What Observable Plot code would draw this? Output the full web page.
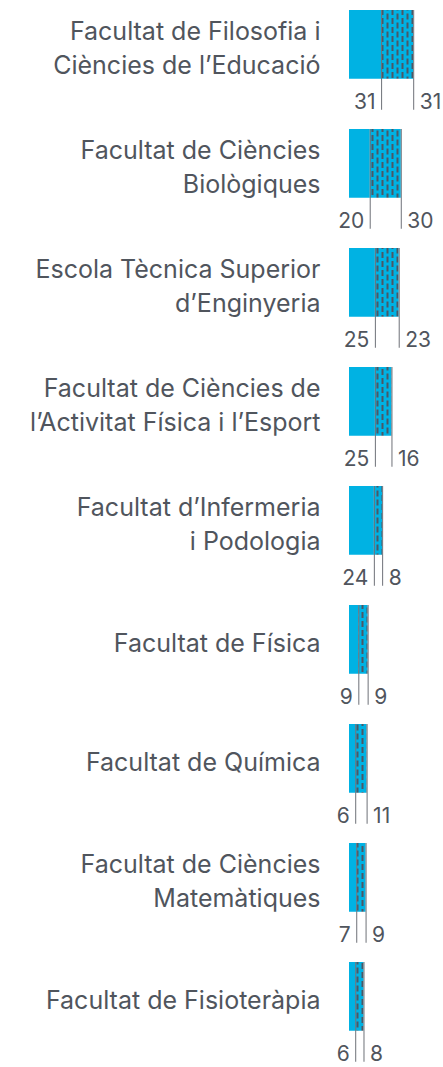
<!DOCTYPE html>
<html>
<head>
<meta charset="utf-8">
<script src="https://cdn.jsdelivr.net/npm/d3@7"></script>
<script src="https://cdn.jsdelivr.net/npm/@observablehq/plot@0.6"></script>
<style>
  html, body { margin: 0; padding: 0; background: #fff; }
  #chart svg { display: block; }
</style>
</head>
<body>
<div id="chart"></div>
<script>
const categories = [
  "Facultat de Filosofia i\nCiències de l’Educació",
  "Facultat de Ciències\nBiològiques",
  "Escola Tècnica Superior\nd’Enginyeria",
  "Facultat de Ciències de\nl’Activitat Física i l’Esport",
  "Facultat d’Infermeria\ni Podologia",
  "Facultat de Física",
  "Facultat de Química",
  "Facultat de Ciències\nMatemàtiques",
  "Facultat de Fisioteràpia"
];
const solidValues = [31, 20, 25, 25, 24, 9, 6, 7, 6];
const patternValues = [31, 30, 23, 16, 8, 9, 11, 9, 8];

const rows = categories.map((c, i) => ({
  cat: c,
  a: solidValues[i],
  b: patternValues[i],
  total: solidValues[i] + patternValues[i]
}));

const BLUE = "#00b2e3";
const TEXT = "#50555d";
const RULE = "#6e7178";
const pitch = 119.25;
const top0 = 9;
const barH = 69;
const font = "Inter, 'Noto Sans', sans-serif";

const chart = Plot.plot({
  width: 443,
  height: 1067,
  margin: 0,
  style: { fontFamily: font, background: "#fff", overflow: "visible" },
  x: { domain: [0, 62], range: [349, 413.2], axis: null },
  y: { type: "band", domain: categories, range: [top0, top0 + categories.length * pitch], padding: 0, axis: null },
  marks: [
    Plot.barX(rows, { y: "cat", x1: 0, x2: "a", fill: BLUE, insetBottom: pitch - barH }),
    Plot.barX(rows, { y: "cat", x1: "a", x2: "total", fill: "url(#hatch)", insetBottom: pitch - barH }),
    Plot.tickX(rows, { y: "cat", x: "a", stroke: RULE, strokeWidth: 1, insetBottom: pitch - barH - 31 }),
    Plot.tickX(rows, { y: "cat", x: "total", stroke: RULE, strokeWidth: 1, insetBottom: pitch - barH - 31 }),
    Plot.text(rows, { y: "cat", x: "a", text: d => String(d.a), textAnchor: "end", dx: -6, dy: barH + 23 - pitch / 2, fontSize: 21, fill: TEXT }),
    Plot.text(rows, { y: "cat", x: "total", text: d => String(d.b), textAnchor: "start", dx: 6, dy: barH + 23 - pitch / 2, fontSize: 21, fill: TEXT }),
    Plot.text(rows, { y: "cat", x: 0, text: "cat", textAnchor: "end", dx: -29, dy: barH / 2 - pitch / 2 + 1, fontSize: 25, lineHeight: 1.36, fill: TEXT })
  ]
});

// hatch pattern definition
const svg = d3.select(chart);
const defs = svg.insert("defs", ":first-child");
const pat = defs.append("pattern")
  .attr("id", "hatch")
  .attr("patternUnits", "userSpaceOnUse")
  .attr("width", 10)
  .attr("height", 9)
  .attr("x", 0.5)
  .attr("y", 0);
pat.append("rect").attr("width", 10).attr("height", 9).attr("fill", BLUE);
pat.append("rect").attr("x", 1).attr("y", 0).attr("width", 2).attr("height", 6).attr("fill", "#4b5765");
pat.append("rect").attr("x", 6).attr("y", 4.5).attr("width", 2).attr("height", 4.5).attr("fill", "#4b5765");
pat.append("rect").attr("x", 6).attr("y", 0).attr("width", 2).attr("height", 1.5).attr("fill", "#4b5765");

document.getElementById("chart").appendChild(chart);
</script>
</body>
</html>
